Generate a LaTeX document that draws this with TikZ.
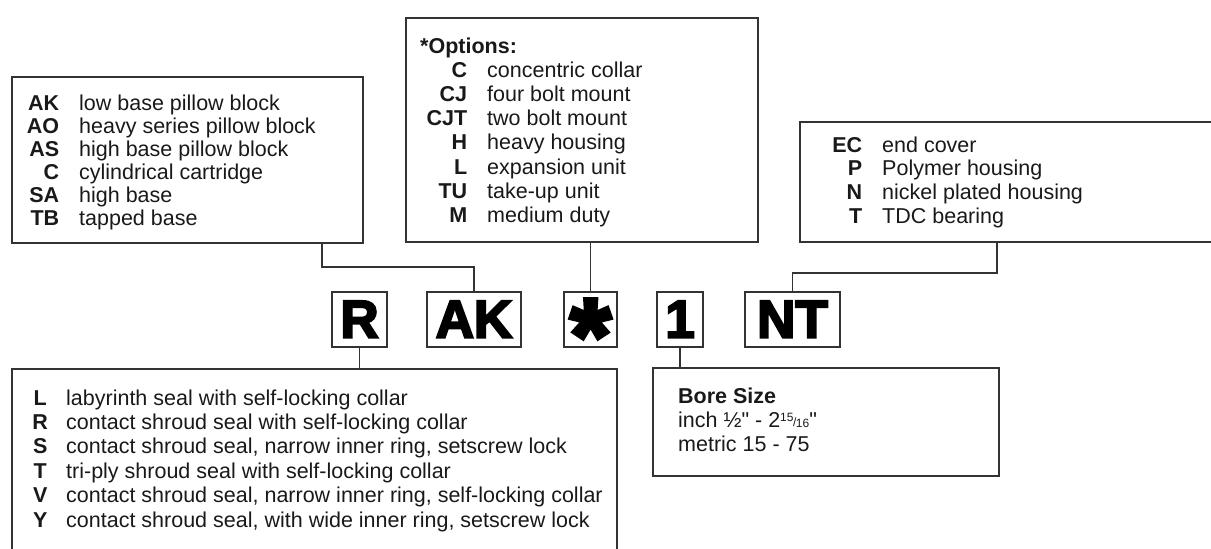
\documentclass[tikz,border=0pt]{standalone}
\usepackage{fontspec}
\usepackage{tikz}
\newfontfamily\listfont{Liberation Sans}
\newfontfamily\codefont{Liberation Sans}[BoldFeatures={FakeBold=4}]
\def\entry#1#2{\makebox[40pt][r]{\bfseries #1}\hspace{20pt}#2}
\def\sealentry#1#2{\makebox[16pt][c]{\bfseries #1}\hspace{18pt}#2}
\def\listsize#1{\fontsize{21.5}{#1}\selectfont}

\begin{document}
\begin{tikzpicture}[x=1pt,y=-1pt,
	box/.style={draw=black!80, line width=1.4pt, inner sep=0pt, outer sep=0pt, anchor=north west},
	codebox/.style={draw=black!80, line width=1.3pt, inner sep=0pt, outer sep=0pt, minimum height=55pt, text height=39pt, text depth=3pt, text=black, font=\codefont\bfseries\fontsize{53}{53}\selectfont},
	list/.style={anchor=base west, inner sep=0pt, text=black!90},
	link/.style={draw=black!80, line width=1.3pt}]
	\useasboundingbox (0,0) rectangle (1211,549);
	\clip (0,0) rectangle (1211,549);
	\node[box, minimum width=351pt, minimum height=166pt] (housing) at (12,77) {};
	\node[box, minimum width=352pt, minimum height=224pt] (options) at (406,18) {};
	\node[box, minimum width=500pt, minimum height=120pt] (suffix) at (800,122) {};
	\node[box, minimum width=605pt, minimum height=250pt] (seal) at (12,369) {};
	\node[box, minimum width=346pt, minimum height=108pt] (bore) at (653,368) {};
	\node[codebox, minimum width=55pt] (sealcode) at (359.5,319.5) {R};
	\node[codebox, minimum width=94pt] (typecode) at (474,319.5) {AK};
	\node[codebox, minimum width=53pt] (optcode) at (590.5,319.5) {\raisebox{-34pt}{\fontsize{105}{105}\selectfont *}};
	\node[codebox, minimum width=46pt] (borecode) at (680,319.5) {1};
	\node[codebox, minimum width=95pt] (suffixcode) at (792.5,319.5) {NT};
	\draw[link] (typecode.north) -- ++(0,-25) -| ([xshift=-41pt]housing.south east);
	\draw[link] (optcode.north) -- (optcode.north |- options.south);
	\draw[link] (suffixcode.north) -- ++(0,-19) -| ([xshift=197pt]suffix.south west);
	\draw[link] (sealcode.south) -- (sealcode.south |- seal.north);
	\draw[link] (borecode.south) -- (borecode.south |- bore.north);
	\node[list, font=\listfont\listsize{23}] (housinglist) at (19,110) {\begin{tabular}[t]{@{}l@{}}
		\entry{AK}{low base pillow block}\\
		\entry{AO}{heavy series pillow block}\\
		\entry{AS}{high base pillow block}\\
		\entry{C}{cylindrical cartridge}\\
		\entry{SA}{high base}\\
		\entry{TB}{tapped base}
	\end{tabular}};
	\node[list, font=\listfont\listsize{24.2}] (optionlist) at (427,53) {\begin{tabular}[t]{@{}l@{}}
		\hspace*{-7pt}\textbf{*Options:}\\
		\entry{C}{concentric collar}\\
		\entry{CJ}{four bolt mount}\\
		\entry{CJT}{two bolt mount}\\
		\entry{H}{heavy housing}\\
		\entry{L}{expansion unit}\\
		\entry{TU}{take-up unit}\\
		\entry{M}{medium duty}
	\end{tabular}};
	\node[list, font=\listfont\listsize{23.7}] (suffixlist) at (822,152) {\begin{tabular}[t]{@{}l@{}}
		\entry{EC}{end cover}\\
		\entry{P}{Polymer housing}\\
		\entry{N}{nickel plated housing}\\
		\entry{T}{TDC bearing}
	\end{tabular}};
	\node[list, font=\listfont\listsize{24.4}] (seallist) at (32,405) {\begin{tabular}[t]{@{}l@{}}
		\sealentry{L}{labyrinth seal with self-locking collar}\\
		\sealentry{R}{contact shroud seal with self-locking collar}\\
		\sealentry{S}{contact shroud seal, narrow inner ring, setscrew lock}\\
		\sealentry{T}{tri-ply shroud seal with self-locking collar}\\
		\sealentry{V}{contact shroud seal, narrow inner ring, self-locking collar}\\
		\sealentry{Y}{contact shroud seal, with wide inner ring, setscrew lock}
	\end{tabular}};
	\node[list, font=\listfont\listsize{24}] (borelist) at (678,403) {\begin{tabular}[t]{@{}l@{}}
		\textbf{Bore Size}\\
		inch ½" - 2{\fontsize{12}{12}\selectfont\raisebox{6pt}{15}\kern-0.5pt\raisebox{1pt}{/}\kern-0.5pt16}"\\
		metric 15 - 75
	\end{tabular}};
\end{tikzpicture}
\end{document}
